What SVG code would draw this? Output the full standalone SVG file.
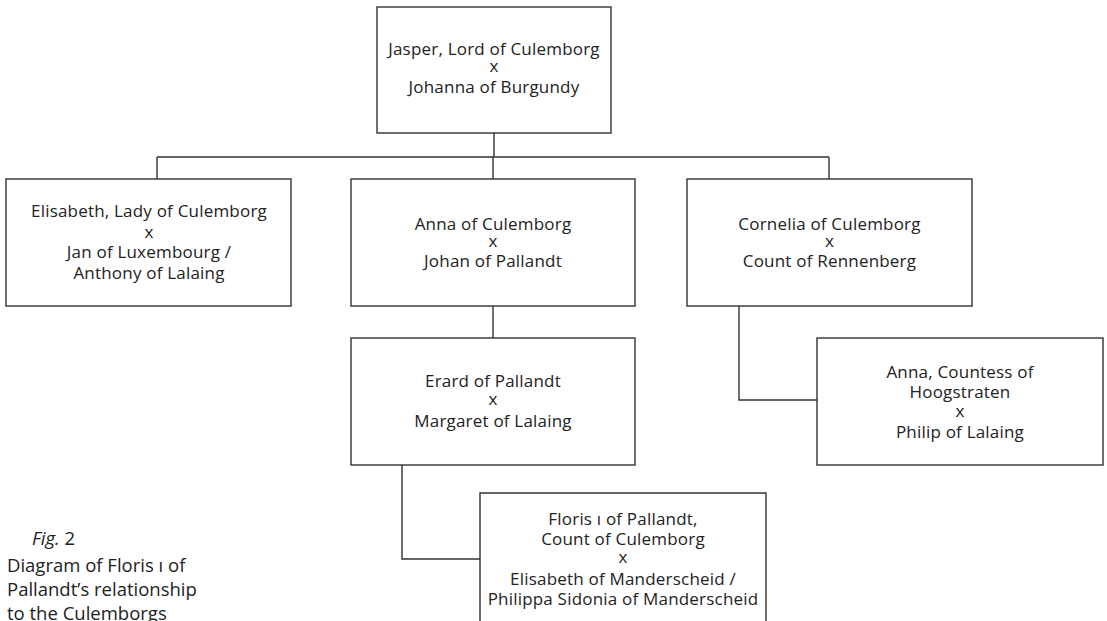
<svg xmlns="http://www.w3.org/2000/svg" width="1107" height="621" viewBox="0 0 1107 621">
<style>
.box{fill:#fff;stroke:#333;stroke-width:1.4}
.ln{fill:none;stroke:#333;stroke-width:1.4}
.t{font-family:"Open Sans","Liberation Sans",sans-serif;font-size:17px;letter-spacing:0.2px;fill:#222;text-anchor:middle}
.cap{font-family:"Open Sans","Liberation Sans",sans-serif;font-size:18.5px;fill:#222}
</style>
<rect width="1107" height="621" fill="#fff"/>
<g id="connectors">
<path class="ln" d="M494 133V157M157 157H829M157 157V179M493 157V179M829 157V179"/>
<path class="ln" d="M493 306V338"/>
<path class="ln" d="M739 306V400H817"/>
<path class="ln" d="M402 465V559H480"/>
</g>
<g id="jasper">
<rect class="box" x="377" y="7" width="234" height="126"/>
<text class="t"><tspan x="494" y="55">Jasper, Lord of Culemborg</tspan><tspan x="494" y="72">x</tspan><tspan x="494" y="93.3">Johanna of Burgundy</tspan></text>
</g>
<g id="elisabeth">
<rect class="box" x="6" y="179" width="285" height="127"/>
<text class="t"><tspan x="149" y="216.7">Elisabeth, Lady of Culemborg</tspan><tspan x="149" y="237.5">x</tspan><tspan x="149" y="258.3">Jan of Luxembourg /</tspan><tspan x="149" y="278.5">Anthony of Lalaing</tspan></text>
</g>
<g id="anna">
<rect class="box" x="351" y="179" width="284" height="127"/>
<text class="t"><tspan x="493" y="230">Anna of Culemborg</tspan><tspan x="493" y="247">x</tspan><tspan x="493" y="267">Johan of Pallandt</tspan></text>
</g>
<g id="cornelia">
<rect class="box" x="687" y="179" width="285" height="127"/>
<text class="t"><tspan x="829.5" y="229.5">Cornelia of Culemborg</tspan><tspan x="829.5" y="246.5">x</tspan><tspan x="829.5" y="266.7">Count of Rennenberg</tspan></text>
</g>
<g id="erard">
<rect class="box" x="351" y="338" width="284" height="127"/>
<text class="t"><tspan x="493" y="387">Erard of Pallandt</tspan><tspan x="493" y="405">x</tspan><tspan x="493" y="426.7">Margaret of Lalaing</tspan></text>
</g>
<g id="anna-hoogstraten">
<rect class="box" x="817" y="338" width="286" height="127"/>
<text class="t"><tspan x="960" y="378.3">Anna, Countess of</tspan><tspan x="960" y="398.3">Hoogstraten</tspan><tspan x="960" y="416.7">x</tspan><tspan x="960" y="437.5">Philip of Lalaing</tspan></text>
</g>
<g id="floris">
<path class="ln" d="M480 630V493H766V630" style="fill:#fff"/>
<text class="t"><tspan x="623" y="525">Floris ı of Pallandt,</tspan><tspan x="623" y="545">Count of Culemborg</tspan><tspan x="623" y="563.3">x</tspan><tspan x="623" y="585">Elisabeth of Manderscheid /</tspan><tspan x="623" y="605">Philippa Sidonia of Manderscheid</tspan></text>
</g>
<g id="caption">
<text class="cap" x="32" y="545"><tspan font-style="italic">Fig.</tspan> 2</text>
<text class="cap" x="7" y="571.7">Diagram of Floris ı of</text>
<text class="cap" x="7" y="595.5">Pallandt’s relationship</text>
<text class="cap" x="7" y="619.5">to the Culemborgs</text>
</g>
</svg>
